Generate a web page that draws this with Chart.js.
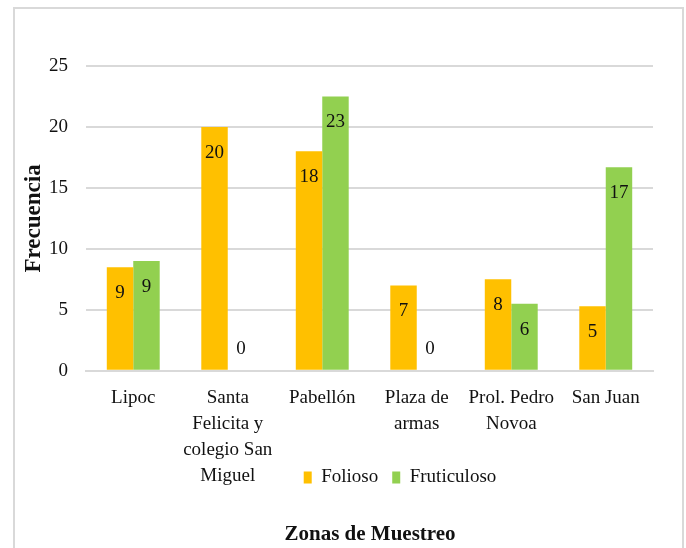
<!DOCTYPE html>
<html>
<head>
<meta charset="utf-8">
<script src="https://cdn.jsdelivr.net/npm/chart.js@4.4.1/dist/chart.umd.min.js"></script>
<style>
  html, body { margin: 0; padding: 0; background: #fff; }
  #wrap { position: relative; width: 686px; height: 548px; }
  #frame {
    position: absolute; left: 13px; top: 7px; width: 671px; height: 560px;
    border: 2px solid #d9d9d9; pointer-events: none; box-sizing: border-box;
  }
</style>
</head>
<body>
<div id="wrap">
  <canvas id="chart" width="686" height="548"></canvas>
  <div id="frame"></div>
</div>
<script>
const zones = [
  ["Lipoc"],
  ["Santa", "Felicita y", "colegio San", "Miguel"],
  ["Pabellón"],
  ["Plaza de", "armas"],
  ["Prol. Pedro", "Novoa"],
  ["San Juan"]
]
const folioso = [8.5, 20, 18, 7, 7.5, 5.3]
const fruticuloso = [9, 0, 22.5, 0, 5.5, 16.7]
const yTicks = [0, 5, 10, 15, 20, 25]

const FONT = "'Liberation Serif', 'Times New Roman', serif"

// value labels sit just under the top of each bar, zeros float above the axis
const barLabels = {
  id: "barLabels",
  afterDatasetsDraw(chart) {
    const { ctx } = chart
    ctx.save()
    ctx.font = "19px " + FONT
    ctx.fillStyle = "#111"
    ctx.textAlign = "center"
    ctx.textBaseline = "middle"
    chart.data.datasets.forEach((ds, i) => {
      chart.getDatasetMeta(i).data.forEach((bar, j) => {
        const v = ds.data[j]
        const y = v > 0 ? bar.y + 26 : bar.base - 22
        ctx.fillText(String(Math.round(v)), bar.x, y)
      })
    })
    ctx.restore()
  }
}

// legend beside the last tick line, title a little right of centre,
// and let the x labels run past their (shortened) box without clipping
const placeBlocks = {
  id: "placeBlocks",
  afterLayout(chart) {
    const lg = chart.legend
    if (lg) {
      const dx = 400 - (lg.left + lg.right) / 2
      lg.left += dx
      lg.right += dx
      const dy = 454 - lg.top
      lg.top += dy
      lg.bottom += dy
    }
    const tb = chart.titleBlock
    if (tb) {
      const dx = 370 - (tb.left + tb.right) / 2
      tb.left += dx
      tb.right += dx
    }
    chart.scales.x.bottom = chart.height
  }
}

new Chart(document.getElementById("chart"), {
  type: "bar",
  data: {
    labels: zones,
    datasets: [
      { label: "Folioso", data: folioso, backgroundColor: "#FFC000" },
      { label: "Fruticuloso", data: fruticuloso, backgroundColor: "#92D050" }
    ]
  },
  plugins: [barLabels, placeBlocks],
  options: {
    responsive: false,
    animation: false,
    layout: { padding: { left: 14, right: 33, top: 66, bottom: 0 } },
    datasets: {
      bar: { categoryPercentage: 0.56, barPercentage: 1.0 }
    },
    plugins: {
      legend: {
        position: "bottom",
        labels: {
          font: { family: FONT, size: 19 },
          color: "#111",
          boxWidth: 8,
          boxHeight: 12,
          padding: 14
        }
      },
      title: {
        display: true,
        position: "bottom",
        text: "Zonas de Muestreo",
        color: "#111",
        font: { family: FONT, size: 21, weight: "bold" },
        padding: { top: 20, bottom: 1 }
      },
      tooltip: { enabled: false }
    },
    scales: {
      x: {
        grid: { display: false, drawTicks: false },
        border: { color: "#d9d9d9", width: 2 },
        ticks: {
          autoSkip: false,
          maxRotation: 0,
          font: { family: FONT, size: 19, lineHeight: 1.37 },
          color: "#111",
          padding: 14
        },
        afterFit(scale) { scale.height = 88 }
      },
      y: {
        min: 0,
        max: 25,
        afterBuildTicks(scale) { scale.ticks = yTicks.map(v => ({ value: v })) },
        grid: { color: "#d9d9d9", lineWidth: 2, drawTicks: false },
        border: { display: false },
        ticks: {
          font: { family: FONT, size: 19 },
          color: "#111",
          padding: 18
        },
        title: {
          display: true,
          text: "Frecuencia",
          color: "#111",
          font: { family: FONT, size: 23, weight: "bold" },
          padding: { top: 6, bottom: 0 }
        },
        afterFit(scale) { scale.width = 72 }
      }
    }
  }
})
</script>
</body>
</html>
